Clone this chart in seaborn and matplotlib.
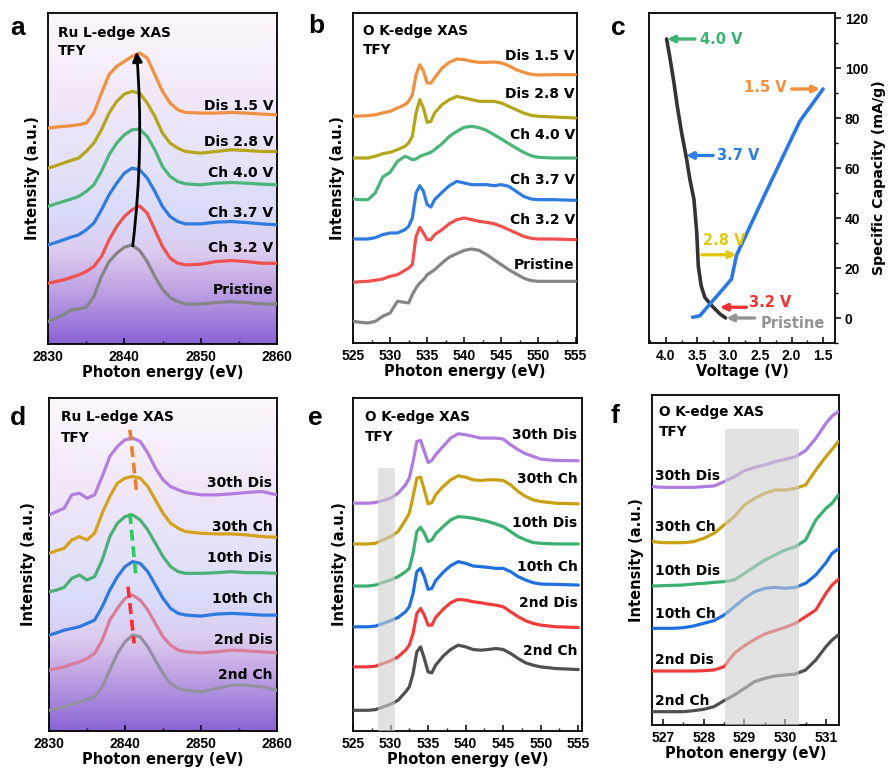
import numpy as np
import matplotlib
matplotlib.use('Agg')
import matplotlib.pyplot as plt
import seaborn as sns
from matplotlib.colors import LinearSegmentedColormap
from matplotlib.ticker import MultipleLocator

sns.set_theme(style='ticks')
plt.rcParams['font.family'] = ['DejaVu Sans']
plt.rcParams['font.weight'] = 'bold'
plt.rcParams['axes.labelweight'] = 'bold'
plt.rcParams['axes.linewidth'] = 1.3
plt.rcParams['text.color'] = 'black'
plt.rcParams['axes.labelcolor'] = 'black'
plt.rcParams['xtick.color'] = 'black'
plt.rcParams['ytick.color'] = 'black'
TICKFONT = 'Liberation Sans'

# ---------------- Panel a : Ru L-edge, first cycle ----------------
E_ru = [2830, 2831, 2832, 2833, 2834, 2835, 2836, 2837, 2838, 2839, 2840, 2841, 2842,
        2843, 2844, 2845, 2846, 2847, 2848, 2850, 2852, 2854, 2856, 2858, 2860]
a_labels = ['Pristine', 'Ch 3.2 V', 'Ch 3.7 V', 'Ch 4.0 V', 'Dis 2.8 V', 'Dis 1.5 V']
a_colors = ['#858585', '#f0504e', '#2f7be0', '#4cb57a', '#b3a61a', '#f09040']
a_pristine = [6.7, 7.7, 8.7, 10.2, 10.5, 11.0, 14.2, 20.2, 24.7, 27.2, 29.0, 29.7, 28.0,
              24.7, 20.2, 16.4, 13.9, 12.7, 12.0, 12.0, 12.4, 12.7, 12.4, 12.0, 12.0]
a_ch32 = [18.2, 18.7, 19.2, 19.9, 20.7, 21.7, 23.2, 26.2, 31.2, 35.2, 38.2, 40.2, 41.4,
          39.2, 34.2, 29.2, 25.7, 24.2, 23.7, 23.9, 24.7, 25.0, 24.7, 24.2, 24.2]
a_ch37 = [29.7, 30.4, 31.2, 32.0, 32.7, 34.2, 36.2, 40.2, 44.7, 48.2, 51.2, 52.7, 52.2,
          49.7, 45.7, 41.2, 38.2, 36.7, 36.0, 36.0, 36.5, 36.7, 36.4, 36.0, 35.7]
a_ch40 = [41.2, 42.0, 42.7, 43.4, 44.2, 45.7, 47.7, 51.7, 56.7, 60.2, 62.7, 64.2, 64.4,
          62.2, 58.2, 53.2, 50.2, 48.7, 48.0, 47.7, 48.2, 48.4, 48.2, 47.9, 47.7]
a_dis28 = [52.7, 53.4, 54.2, 55.0, 55.7, 57.7, 60.2, 64.2, 69.2, 72.7, 74.9, 75.7, 75.2,
           72.2, 68.2, 63.2, 60.2, 58.7, 57.7, 57.2, 57.7, 58.2, 58.0, 57.7, 57.7]
a_dis15 = [64.7, 65.0, 65.2, 65.4, 65.7, 66.2, 69.2, 75.2, 80.7, 83.2, 84.7, 86.2, 87.2,
           85.7, 80.7, 75.7, 72.2, 70.2, 69.4, 69.2, 69.2, 69.4, 69.2, 68.9, 68.7]
a_label_y = [16.2, 28.7, 39.2, 51.2, 60.4, 71.4]

# ---------------- Panel b : O K-edge, first cycle ----------------
E_o = [525, 526, 527, 528, 529, 530, 531, 532, 532.5, 533, 533.5, 534, 534.5, 535, 535.5,
       536, 537, 538, 539, 540, 541, 542, 543, 544, 545, 546, 547, 548, 549, 550, 552, 555]
b_pristine = [6.5, 6.2, 6.0, 6.5, 8.0, 9.0, 12.5, 12.2, 12.0, 14.5, 16.5, 18.0, 19.0, 20.5, 21.2,
              22.0, 24.0, 25.8, 26.8, 27.8, 28.2, 27.8, 26.5, 25.0, 23.5, 22.0, 20.7, 19.5, 18.7, 18.5, 18.5, 18.5]
b_ch32 = [18.2, 18.4, 18.5, 18.8, 19.2, 20.0, 20.5, 21.8, 22.5, 23.5, 32.0, 34.7, 33.0, 31.0, 31.0,
          32.5, 34.0, 35.8, 37.0, 37.5, 37.0, 36.5, 36.2, 35.8, 35.0, 34.0, 33.0, 32.0, 31.4, 31.2, 31.2, 31.0]
b_ch37 = [31.2, 31.2, 31.2, 31.6, 32.5, 33.0, 33.0, 34.0, 35.0, 37.5, 45.0, 47.2, 45.5, 41.5, 40.8,
          43.0, 45.2, 47.2, 48.5, 48.0, 47.5, 47.5, 47.5, 47.2, 47.5, 47.0, 45.5, 44.0, 43.2, 43.0, 43.0, 42.8]
b_ch40 = [43.2, 43.0, 43.0, 45.0, 49.8, 51.2, 54.5, 56.0, 55.6, 55.0, 55.2, 56.0, 56.4, 56.8, 57.2,
          58.0, 59.8, 62.0, 63.5, 64.7, 65.0, 64.6, 63.8, 62.5, 61.2, 59.8, 58.5, 57.2, 56.2, 55.7, 55.5, 55.5]
b_dis28 = [55.5, 55.5, 55.5, 56.0, 56.8, 57.2, 58.0, 59.0, 60.0, 62.0, 69.0, 73.0, 70.5, 66.2, 66.5,
           69.0, 71.5, 73.0, 74.0, 73.5, 73.0, 72.5, 72.5, 72.5, 72.0, 71.0, 70.0, 69.0, 68.3, 68.0, 67.8, 67.5]
b_dis15 = [68.0, 68.1, 68.2, 68.5, 69.0, 69.5, 70.5, 71.5, 72.5, 74.5, 80.5, 83.5, 81.5, 78.0, 78.0,
           79.5, 82.5, 84.2, 85.2, 85.0, 84.5, 84.2, 84.2, 84.3, 84.0, 83.2, 82.0, 81.2, 80.6, 80.4, 80.5, 80.5]
b_label_y = [23.5, 37.0, 48.8, 62.5, 74.7, 86.0]

# ---------------- Panel c : charge / discharge curve ----------------
ch_voltage = [3.05, 3.14, 3.27, 3.38, 3.44, 3.486, 3.51, 3.555, 3.62, 3.67, 3.75, 3.82, 3.88, 3.95, 3.99]
ch_capacity = [0.0, 1.6, 4.9, 8.2, 12.9, 20.9, 34.2, 47.5, 55.5, 63.4, 74.0, 84.7, 95.3, 106.0, 111.6]
dis_voltage = [3.576, 3.46, 3.30, 3.14, 2.957, 2.877, 2.40, 1.87, 1.50]
dis_capacity = [0.3, 0.9, 5.6, 10.2, 15.6, 25.1, 50.8, 78.7, 91.6]
c_marks = ['4.0 V', '1.5 V', '3.7 V', '2.8 V', '3.2 V', 'Pristine']
c_mark_colors = ['#3cb371', '#f0903c', '#2e7de0', '#e2c80e', '#f03232', '#939393']
c_arrow_from = [(3.54, 111.6), (2.00, 91.6), (3.25, 65.0), (3.43, 25.3), (2.72, 4.3), (2.59, 0.0)]
c_arrow_to = [(3.98, 111.6), (1.55, 91.6), (3.68, 65.0), (2.88, 25.3), (3.14, 4.3), (3.04, 0.0)]
c_text_pos = [(3.46, 111.6), (2.08, 92.0), (3.195, 65.0), (3.41, 31.0), (2.68, 6.2), (2.50, -2.4)]
c_text_ha = ['left', 'right', 'left', 'left', 'left', 'left']

# ---------------- Panel d : Ru L-edge, cycling ----------------
cyc_labels = ['2nd Ch', '2nd Dis', '10th Ch', '10th Dis', '30th Ch', '30th Dis']
d_colors = ['#9390a2', '#d97c9c', '#2f78e0', '#4caf78', '#d4a21c', '#b27ee0']
d_2ch = [6.2, 6.7, 7.2, 8.0, 8.7, 9.4, 10.2, 13.2, 18.2, 23.2, 26.7, 28.7, 28.2,
         25.2, 21.2, 17.2, 14.2, 12.7, 12.2, 11.7, 12.7, 13.7, 13.7, 13.2, 12.2]
d_2dis = [18.2, 18.7, 19.2, 20.0, 20.7, 21.7, 23.2, 27.2, 33.2, 36.7, 39.7, 40.7, 39.2,
          36.2, 32.2, 28.2, 25.7, 24.2, 23.7, 23.4, 23.7, 24.2, 24.0, 23.7, 23.4]
d_10ch = [28.7, 29.4, 30.2, 30.7, 31.2, 32.2, 33.2, 37.2, 42.2, 46.2, 49.2, 50.7, 50.2,
          47.7, 43.7, 39.7, 36.7, 35.2, 34.7, 34.4, 35.0, 35.2, 35.0, 34.7, 34.7]
d_10dis = [41.7, 42.2, 43.0, 45.7, 46.7, 45.2, 46.2, 51.2, 58.2, 62.2, 64.2, 64.7, 63.2,
           60.2, 56.2, 52.2, 49.2, 47.7, 47.2, 47.2, 47.4, 47.7, 47.4, 47.4, 47.2]
d_30ch = [53.2, 54.0, 54.7, 57.2, 58.2, 57.2, 59.2, 65.2, 70.2, 74.2, 75.7, 76.2, 75.7,
          73.2, 69.2, 65.2, 62.2, 60.7, 59.7, 59.2, 59.0, 59.0, 58.7, 58.2, 58.0]
d_30dis = [64.7, 65.7, 66.7, 70.7, 71.2, 69.7, 70.7, 76.2, 82.2, 85.2, 87.2, 87.7, 86.7,
           83.2, 78.7, 75.2, 73.2, 72.2, 71.4, 70.7, 70.7, 71.0, 71.4, 71.7, 70.7]
d_label_y = [16.7, 27.2, 39.4, 51.7, 61.2, 74.4]
d_guides = [((2840.4, 43.2), (2841.2, 26.2), '#ff2a2a'),
            ((2840.64, 65.2), (2841.4, 47.2), '#2ecc5c'),
            ((2840.64, 90.2), (2841.5, 72.2), '#f07f2a')]

# ---------------- Panel e : O K-edge, cycling ----------------
e_colors = ['#505050', '#f03c3c', '#1f6fe0', '#3cb070', '#c9a012', '#b07ce0']
e_2ch = [6.2, 6.2, 6.2, 6.4, 7.2, 8.0, 9.2, 11.7, 13.2, 17.2, 23.7, 25.2, 21.7, 17.7, 17.4,
         19.7, 22.4, 24.4, 25.7, 25.2, 24.4, 24.2, 24.4, 24.7, 24.4, 23.2, 21.7, 20.4, 19.7, 19.2, 18.7, 18.4]
e_2dis = [19.2, 19.2, 19.2, 19.4, 20.2, 21.0, 22.2, 24.2, 25.7, 29.2, 35.2, 36.7, 34.7, 31.7, 31.7,
          34.0, 36.4, 38.4, 39.4, 39.2, 38.7, 38.4, 38.0, 37.7, 37.2, 35.7, 34.2, 33.0, 32.2, 31.7, 31.2, 31.0]
e_10ch = [31.2, 31.2, 31.2, 31.4, 32.2, 33.0, 34.0, 35.7, 37.2, 41.2, 47.7, 48.7, 46.2, 42.4, 42.7,
          45.0, 47.5, 49.5, 50.7, 50.2, 49.4, 49.2, 49.0, 48.7, 48.7, 47.7, 46.2, 45.2, 44.4, 44.0, 43.9, 43.7]
e_10dis = [43.4, 43.4, 43.4, 43.7, 44.5, 45.2, 46.2, 47.7, 48.7, 53.2, 59.7, 61.0, 59.2, 56.7, 57.2,
           59.0, 61.2, 63.2, 64.2, 64.0, 63.7, 63.2, 62.7, 62.0, 61.2, 59.7, 58.2, 57.2, 56.4, 56.2, 56.0, 56.0]
e_30ch = [56.0, 56.0, 56.0, 56.2, 57.2, 58.2, 59.7, 63.2, 65.2, 70.2, 75.7, 76.0, 72.2, 68.0, 68.4,
          70.7, 73.2, 75.2, 76.4, 76.0, 75.2, 75.0, 75.2, 75.2, 75.0, 73.7, 71.7, 70.2, 69.2, 68.7, 68.2, 68.0]
e_30dis = [68.2, 68.2, 68.2, 68.4, 69.0, 69.7, 71.2, 73.7, 75.7, 80.7, 86.7, 87.0, 83.7, 80.4, 81.0,
           82.7, 85.2, 87.7, 89.0, 88.7, 88.2, 87.7, 87.7, 87.7, 87.4, 85.7, 84.2, 83.0, 82.2, 81.4, 81.0, 80.9]
e_label_y = [24.0, 38.2, 49.2, 62.2, 75.5, 88.7]
e_band = (528.35, 530.6, 78.7)

# ---------------- Panel f : O K-edge pre-edge zoom ----------------
E_pre = [526.75, 527.0, 527.25, 527.5, 527.75, 528.0, 528.25, 528.5, 528.75, 529.0,
         529.25, 529.5, 529.75, 530.0, 530.25, 530.5, 530.75, 531.0, 531.15, 531.3]
f_2ch = [4.0, 4.0, 4.0, 4.0, 4.3, 4.7, 5.5, 7.3, 9.0, 11.0, 13.0, 14.0, 14.7, 15.0, 15.3, 16.5, 19.5, 23.5, 25.5, 27.0]
f_2dis = [16.2, 16.2, 16.2, 16.2, 16.2, 16.3, 16.5, 17.5, 21.5, 23.8, 25.7, 27.3, 28.3, 29.3, 30.5, 32.5, 34.5, 39.5, 42.0, 43.7]
f_10ch = [29.0, 29.0, 29.0, 29.2, 29.7, 30.5, 31.3, 33.0, 35.5, 38.0, 40.0, 41.0, 41.3, 41.0, 41.3, 42.5, 45.0, 48.7, 51.5, 52.8]
f_10dis = [41.7, 41.8, 41.9, 42.0, 42.3, 42.5, 42.8, 43.0, 43.5, 45.5, 47.5, 49.5, 51.0, 52.5, 53.5, 55.5, 61.5, 65.0, 66.5, 69.0]
f_30ch = [55.0, 54.7, 54.7, 54.7, 55.0, 56.0, 57.5, 60.0, 62.5, 66.0, 68.0, 69.5, 70.5, 70.5, 71.0, 72.0, 76.5, 80.5, 82.7, 85.0]
f_30dis = [71.5, 71.3, 71.3, 71.3, 71.3, 71.5, 71.7, 73.0, 74.5, 76.3, 77.3, 78.0, 79.0, 79.7, 80.5, 82.3, 86.0, 90.5, 92.7, 94.0]
f_label_y = [7.3, 19.5, 33.2, 46.3, 59.5, 74.8]
f_band = (528.52, 530.35, 88.7)

# ---------------- layout ----------------
W, H = 888, 771
fig = plt.figure(figsize=(W / 100, H / 100), dpi=100)


def box(l, t, r, b):
    return [l / W, 1 - b / H, (r - l) / W, (b - t) / H]


grad_cmap = LinearSegmentedColormap.from_list('bg', [
    (0.00, '#8a62d6'), (0.08, '#a384dc'), (0.18, '#c4a8e4'), (0.28, '#dccdef'),
    (0.40, '#d9dcfa'), (0.55, '#e6e2f8'), (0.75, '#f2e8f8'), (1.00, '#fdf8fc')])


def style_spec(ax, xlim, ylim, major, minor, ylab_pad):
    ax.set_xlim(*xlim)
    ax.set_ylim(*ylim)
    ax.set_yticks([])
    ax.xaxis.set_major_locator(MultipleLocator(major))
    ax.xaxis.set_minor_locator(MultipleLocator(minor))
    ax.tick_params(axis='x', which='major', direction='in', length=4, width=1.1,
                   labelsize=10, pad=4, top=False, labelfontfamily=TICKFONT)
    ax.tick_params(axis='x', which='minor', direction='in', length=2.5, width=1.0, top=False)
    ax.set_xlabel('Photon energy (eV)', fontsize=10.5, labelpad=1)
    ax.set_ylabel('Intensity (a.u.)', fontsize=10.5, labelpad=ylab_pad)
    for s in ax.spines.values():
        s.set_visible(True)
        s.set_color('black')
        s.set_linewidth(1.3)


def gradient(ax):
    g = np.linspace(0, 1, 256).reshape(-1, 1)
    ax.imshow(g, aspect='auto', cmap=grad_cmap, origin='lower',
              extent=[0, 1, 0, 1], transform=ax.transAxes, zorder=0)


def curves(ax, x, series, colors, lw=2.3):
    for ys, c in zip(series, colors):
        sns.lineplot(x=x, y=ys, ax=ax, color=c, lw=lw, estimator=None, sort=False,
                     zorder=3, legend=False)


def title(ax, text, x, y1, y2):
    ax.text(x, y1, text, fontsize=9.8, ha='left', va='center')
    ax.text(x, y2, 'TFY', fontsize=9.8, ha='left', va='center')


# ----- a -----
ax = fig.add_axes(box(48, 13, 277, 344))
gradient(ax)
curves(ax, E_ru, [a_pristine, a_ch32, a_ch37, a_ch40, a_dis28, a_dis15], a_colors)
for lab, yy in zip(a_labels, a_label_y):
    ax.text(2859.5, yy, lab, fontsize=10, ha='right', va='center', zorder=4)
title(ax, 'Ru L-edge XAS', 2831.3, 93.3, 87.7)
ax.annotate('', xy=(2841.6, 87.6), xytext=(2841.1, 29.4),
            arrowprops=dict(arrowstyle='-|>', lw=2.0, color='black', mutation_scale=14,
                            connectionstyle='arc3,rad=0.05', shrinkA=0, shrinkB=0), zorder=5)
style_spec(ax, (2830, 2860), (0, 99.2), 10, 5, 6)

# ----- b -----
ax = fig.add_axes(box(353, 13, 577, 343))
curves(ax, E_o, [b_pristine, b_ch32, b_ch37, b_ch40, b_dis28, b_dis15], a_colors)
for lab, yy in zip(a_labels, b_label_y):
    ax.text(554.9, yy, lab, fontsize=10, ha='right', va='center', zorder=4)
title(ax, 'O K-edge XAS', 526.3, 93.5, 88.0)
style_spec(ax, (525, 555.2), (0, 99.0), 5, 2.5, 6)

# ----- c -----
ax = fig.add_axes(box(649, 13, 835, 343))
sns.lineplot(x=ch_voltage, y=ch_capacity, ax=ax, color='#333333', lw=2.6,
             estimator=None, sort=False, zorder=3)
sns.lineplot(x=dis_voltage, y=dis_capacity, ax=ax, color='#2b78e4', lw=2.6,
             estimator=None, sort=False, zorder=3)
for lab, col, p0, p1, tp, ha in zip(c_marks, c_mark_colors, c_arrow_from, c_arrow_to,
                                      c_text_pos, c_text_ha):
    ax.annotate('', xy=p1, xytext=p0,
                arrowprops=dict(arrowstyle='-|>', lw=2.4, color=col, mutation_scale=10,
                                shrinkA=0, shrinkB=0), zorder=4)
    ax.text(tp[0], tp[1], lab, color=col, fontsize=10.5, ha=ha, va='center', zorder=4)
ax.set_xlim(4.27, 1.31)
ax.set_ylim(-10, 122)
ax.yaxis.tick_right()
ax.yaxis.set_label_position('right')
ax.xaxis.set_major_locator(MultipleLocator(0.5))
ax.xaxis.set_minor_locator(MultipleLocator(0.25))
ax.yaxis.set_major_locator(MultipleLocator(20))
ax.yaxis.set_minor_locator(MultipleLocator(10))
ax.tick_params(axis='x', which='major', direction='in', length=4, width=1.1, labelsize=10, pad=4,
               labelfontfamily=TICKFONT)
ax.tick_params(axis='x', which='minor', direction='in', length=2.5, width=1.0)
ax.tick_params(axis='y', which='major', direction='out', length=4, width=1.1, labelsize=10,
               left=False, right=True, pad=3, labelfontfamily=TICKFONT)
ax.tick_params(axis='y', which='minor', direction='out', length=2.5, width=1.0,
               left=False, right=True)
ax.set_xticks([4.0, 3.5, 3.0, 2.5, 2.0, 1.5])
ax.set_xticklabels(['4.0', '3.5', '3.0', '2.5', '2.0', '1.5'])
ax.set_xlabel('Voltage (V)', fontsize=10.5, labelpad=1)
ax.set_ylabel('Specific Capacity (mA/g)', fontsize=10.2, labelpad=3)
for s in ax.spines.values():
    s.set_visible(True)
    s.set_color('black')
    s.set_linewidth(1.3)

# ----- d -----
ax = fig.add_axes(box(49, 398, 277, 731))
gradient(ax)
curves(ax, E_ru, [d_2ch, d_2dis, d_10ch, d_10dis, d_30ch, d_30dis], d_colors)
for lab, yy in zip(cyc_labels, d_label_y):
    ax.text(2859.4, yy, lab, fontsize=10, ha='right', va='center', zorder=4)
for p0, p1, col in d_guides:
    ax.plot([p0[0], p1[0]], [p0[1], p1[1]], ls=(0, (3.0, 1.6)), lw=2.6, color=col, zorder=5)
title(ax, 'Ru L-edge XAS', 2831.6, 94.0, 87.8)
style_spec(ax, (2830, 2860), (0, 99.7), 10, 5, 9)

# ----- e -----
ax = fig.add_axes(box(353, 398, 582, 731))
curves(ax, E_o, [e_2ch, e_2dis, e_10ch, e_10dis, e_30ch, e_30dis], e_colors)
ax.fill_between([e_band[0], e_band[1]], 0, e_band[2], color='#cfcfcf', alpha=0.6, lw=0, zorder=4)
for lab, yy in zip(cyc_labels, e_label_y):
    ax.text(554.9, yy, lab, fontsize=10, ha='right', va='center', zorder=5)
title(ax, 'O K-edge XAS', 526.6, 94.0, 88.0)
style_spec(ax, (525, 555.5), (0, 99.7), 5, 2.5, 4)

# ----- f -----
ax = fig.add_axes(box(652, 395, 839, 725))
curves(ax, E_pre, [f_2ch, f_2dis, f_10ch, f_10dis, f_30ch, f_30dis], e_colors)
ax.fill_between([f_band[0], f_band[1]], 0, f_band[2], color='#cfcfcf', alpha=0.6, lw=0, zorder=4)
for lab, yy in zip(cyc_labels, f_label_y):
    ax.text(526.81, yy, lab, fontsize=10, ha='left', va='center', zorder=5)
title(ax, 'O K-edge XAS', 526.9, 94.0, 87.8)
style_spec(ax, (526.73, 531.32), (0, 99.0), 1, 0.5, 6)

# ----- panel letters -----
for letter, x, y in [('a', 10, 35), ('b', 308, 33), ('c', 611, 35),
                     ('d', 10, 425), ('e', 308, 425), ('f', 610, 423)]:
    fig.text(x / W, 1 - y / H, letter, fontsize=19, fontweight='bold',
             ha='left', va='baseline', family=TICKFONT)

fig.savefig('out.png', dpi=100)
